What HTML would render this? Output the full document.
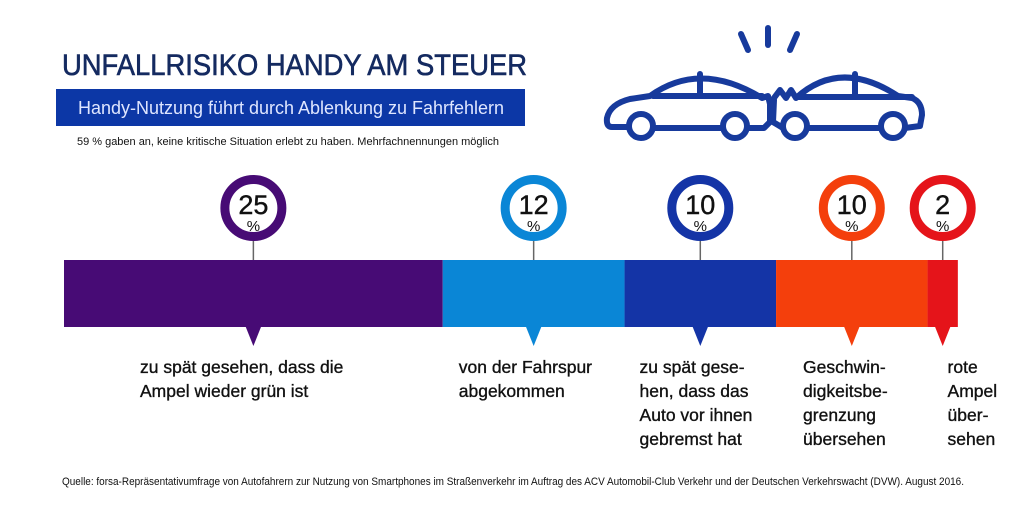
<!DOCTYPE html>
<html><head><meta charset="utf-8">
<style>
html,body{margin:0;padding:0;background:#fff;}
svg{display:block;}
text{font-family:"Liberation Sans",sans-serif;}
</style></head>
<body>
<svg id="chart" width="1024" height="516" viewBox="0 0 1024 516" xmlns="http://www.w3.org/2000/svg">
  <text x="62" y="75" font-size="30" fill="#142a60" stroke="#142a60" stroke-width="0.6" textLength="465" lengthAdjust="spacingAndGlyphs">UNFALLRISIKO HANDY AM STEUER</text>
  <rect x="56" y="89" width="469" height="37" fill="#0c37a6"/>
  <text x="78" y="114" font-size="18" fill="#dfe6ff" textLength="426" lengthAdjust="spacingAndGlyphs">Handy-Nutzung führt durch Ablenkung zu Fahrfehlern</text>
  <text x="77" y="145" font-size="11" fill="#111" textLength="422" lengthAdjust="spacingAndGlyphs">59 % gaben an, keine kritische Situation erlebt zu haben. Mehrfachnennungen möglich</text>

  <g fill="none" stroke="#173a9c" stroke-width="6" stroke-linecap="round" stroke-linejoin="round">
    <line x1="741" y1="34" x2="748" y2="50"/>
    <line x1="768" y1="28" x2="768" y2="45"/>
    <line x1="797" y1="34" x2="790" y2="50"/>
    <path d="M629,127 L612,127 Q606,127 607,118 Q610,104 630,99 L650,96 Q700,60 762,98 L768,96 L770,104 L770,122 L764,128 L747,128"/>
    <path d="M653,96 L762,96 M700,74 L700,96"/>
    <line x1="653" y1="128" x2="723" y2="128"/>
    <circle cx="641" cy="126" r="12"/>
    <circle cx="735" cy="126" r="12"/>
    <path d="M774,98 L780,90 L786,98 L791,90 L796,98 Q840,58 898,96 L912,98 Q922,102 922,115 L920,126 L905,128"/>
    <path d="M796,97 L912,97 M855,74 L855,97"/>
    <path d="M774,100 L773,122 L783,128"/>
    <line x1="807" y1="128" x2="881" y2="128"/>
    <circle cx="795" cy="126" r="12"/>
    <circle cx="893" cy="126" r="12"/>
  </g>

  <g id="bars"></g>

  <text x="62" y="485" font-size="11" fill="#111" textLength="902" lengthAdjust="spacingAndGlyphs">Quelle: forsa-Repräsentativumfrage von Autofahrern zur Nutzung von Smartphones im Straßenverkehr im Auftrag des ACV Automobil-Club Verkehr und der Deutschen Verkehrswacht (DVW). August 2016.</text>
</svg>
<script>
const categories = [
  ["zu spät gesehen, dass die", "Ampel wieder grün ist"],
  ["von der Fahrspur", "abgekommen"],
  ["zu spät gese-", "hen, dass das", "Auto vor ihnen", "gebremst hat"],
  ["Geschwin-", "digkeitsbe-", "grenzung", "übersehen"],
  ["rote", "Ampel", "über-", "sehen"]
];
const values = [25, 12, 10, 10, 2];
const valueLabels = ["25", "12", "10", "10", "2"];
const colors = ["#470b75", "#0a86d6", "#1434a6", "#f43f0c", "#e5141a"];
const labelOffsets = [76, 16, 15, 27, 20];

const X0 = 64, PX_PER = 15.15;
function xScale(v){ return X0 + v * PX_PER; }
const NS = "http://www.w3.org/2000/svg";
const g = document.getElementById("bars");
function mk(tag, attrs){ const e = document.createElementNS(NS, tag); for (const k in attrs) e.setAttribute(k, attrs[k]); g.appendChild(e); return e; }

let cum = 0;
values.forEach((v, i) => {
  const x1 = xScale(cum), x2 = xScale(cum + v), cx = (x1 + x2) / 2;
  const r = mk("rect", {x: x1, y: 260, width: x2 - x1, height: 67, fill: colors[i]});
  
  
  const t = mk("polygon", {points: `${cx-8},326 ${cx+8},326 ${cx},346`, fill: colors[i]});
  
  
  const ln = mk("line", {x1: cx, y1: 240, x2: cx, y2: 260, stroke: "#666", "stroke-width": 1.5});
  
  
  const c = mk("circle", {cx: cx, cy: 208, r: 28.5, fill: "#fff", stroke: colors[i], "stroke-width": 9});
  
  
  const vt = mk("text", {x: cx, y: 214, "font-size": 27, "text-anchor": "middle", fill: "#111", stroke: "#111", "stroke-width": 0.4});
  vt.textContent = valueLabels[i];
  
  
  const pt = mk("text", {x: cx, y: 231, "font-size": 15, "text-anchor": "middle", fill: "#111"});
  pt.textContent = "%";
  
  
  categories[i].forEach((line, j) => {
    const lt = mk("text", {x: x1 + labelOffsets[i], y: 373 + j * 24, "font-size": 17.5, fill: "#111", stroke: "#111", "stroke-width": 0.35});
    lt.textContent = line;
    
    
  });
  cum += v;
});
</script>
</body></html>
